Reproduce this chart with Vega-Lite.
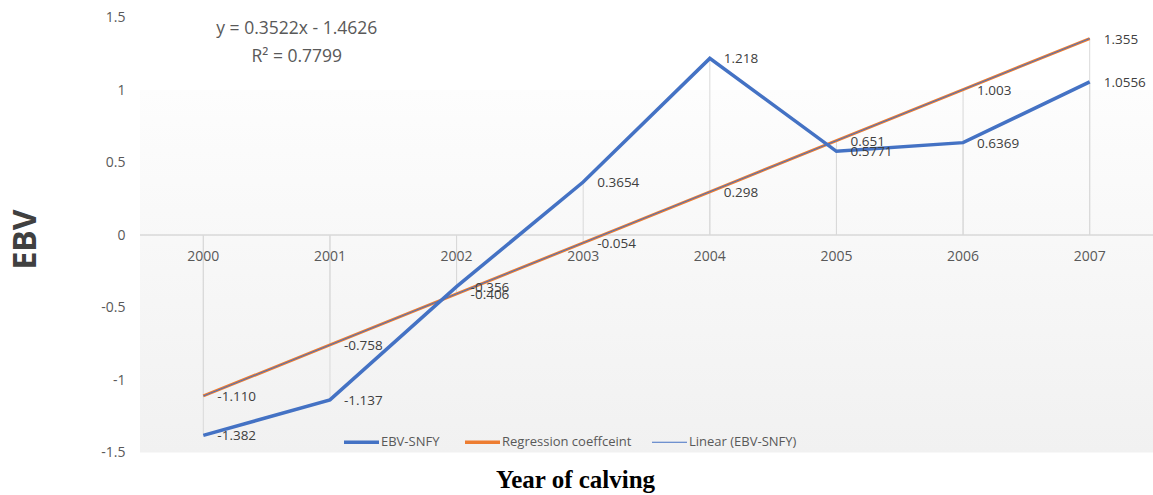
{
  "$schema": "https://vega.github.io/schema/vega-lite/v6.json",
  "width": 1013,
  "height": 435,
  "autosize": {"type": "none"},
  "padding": {"left": 140, "top": 17.5, "right": 0, "bottom": 42.5},
  "background": "white",
  "config": {"view": {"stroke": null}, "font": "Open Sans"},
  "title": {
    "text": ["y = 0.3522x - 1.4626", "R² = 0.7799"],
    "anchor": "middle",
    "frame": "group",
    "orient": "top",
    "baseline": "top",
    "dx": -349.7,
    "offset": -55,
    "fontSize": 17.5,
    "fontWeight": "normal",
    "color": "#595959",
    "lineHeight": 28,
    "font": "Open Sans"
  },
  "data": {
    "values": [
      {"year": "2000", "series": "EBV-SNFY", "value": -1.382, "label": "-1.382"},
      {"year": "2001", "series": "EBV-SNFY", "value": -1.137, "label": "-1.137"},
      {"year": "2002", "series": "EBV-SNFY", "value": -0.356, "label": "-0.356"},
      {"year": "2003", "series": "EBV-SNFY", "value": 0.3654, "label": "0.3654"},
      {"year": "2004", "series": "EBV-SNFY", "value": 1.218, "label": "1.218"},
      {"year": "2005", "series": "EBV-SNFY", "value": 0.5771, "label": "0.5771"},
      {"year": "2006", "series": "EBV-SNFY", "value": 0.6369, "label": "0.6369"},
      {"year": "2007", "series": "EBV-SNFY", "value": 1.0556, "label": "1.0556"},
      {"year": "2000", "series": "Regression coeffceint", "value": -1.110, "label": "-1.110"},
      {"year": "2001", "series": "Regression coeffceint", "value": -0.758, "label": "-0.758"},
      {"year": "2002", "series": "Regression coeffceint", "value": -0.406, "label": "-0.406"},
      {"year": "2003", "series": "Regression coeffceint", "value": -0.054, "label": "-0.054"},
      {"year": "2004", "series": "Regression coeffceint", "value": 0.298, "label": "0.298"},
      {"year": "2005", "series": "Regression coeffceint", "value": 0.651, "label": "0.651"},
      {"year": "2006", "series": "Regression coeffceint", "value": 1.003, "label": "1.003"},
      {"year": "2007", "series": "Regression coeffceint", "value": 1.355, "label": "1.355"},
      {"year": "2000", "series": "Linear (EBV-SNFY)", "value": -1.1104},
      {"year": "2001", "series": "Linear (EBV-SNFY)", "value": -0.7582},
      {"year": "2002", "series": "Linear (EBV-SNFY)", "value": -0.406},
      {"year": "2003", "series": "Linear (EBV-SNFY)", "value": -0.0538},
      {"year": "2004", "series": "Linear (EBV-SNFY)", "value": 0.2984},
      {"year": "2005", "series": "Linear (EBV-SNFY)", "value": 0.6506},
      {"year": "2006", "series": "Linear (EBV-SNFY)", "value": 1.0028},
      {"year": "2007", "series": "Linear (EBV-SNFY)", "value": 1.355}
    ]
  },
  "layer": [
    {
      "data": {"values": [{}]},
      "mark": {
        "type": "rect",
        "color": {
          "gradient": "linear",
          "x1": 0, "y1": 0, "x2": 0, "y2": 1,
          "stops": [
            {"offset": 0, "color": "#fdfdfd"},
            {"offset": 1, "color": "#f1f1f1"}
          ]
        }
      },
      "encoding": {
        "y": {
          "datum": 1, "type": "quantitative",
          "scale": {"domain": [-1.5, 1.5], "nice": false},
          "axis": {
            "values": [-1.5, -1, -0.5, 0, 0.5, 1, 1.5],
            "domain": false, "ticks": false, "grid": false, "labelPadding": 15,
            "labelFont": "Open Sans", "labelFontSize": 14, "labelColor": "#595959",
            "labelExpr": "'' + datum.value",
            "title": "EBV", "titleFont": "Open Sans", "titleFontSize": 32, "titleFontWeight": "bold",
            "titleColor": "#404040", "titleX": -115, "titleY": 221.5, "titleAngle": 270,
            "titleAlign": "center", "titleBaseline": "middle"
          }
        },
        "y2": {"datum": -1.5}
      }
    },
    {
      "data": {"values": [{}]},
      "mark": {"type": "rule", "color": "#d9d9d9", "strokeWidth": 1.5},
      "encoding": {
        "y": {"datum": 0, "type": "quantitative"}
      }
    },
    {
      "transform": [
        {"aggregate": [{"op": "min", "field": "value", "as": "lo"}, {"op": "max", "field": "value", "as": "hi"}], "groupby": ["year"]}
      ],
      "mark": {"type": "rule", "color": "#d9d9d9", "strokeWidth": 1},
      "encoding": {
        "x": {"field": "year", "type": "ordinal", "bandPosition": 0.5},
        "y": {"field": "lo", "type": "quantitative"},
        "y2": {"datum": 0}
      }
    },
    {
      "transform": [
        {"aggregate": [{"op": "min", "field": "value", "as": "lo"}, {"op": "max", "field": "value", "as": "hi"}], "groupby": ["year"]}
      ],
      "mark": {"type": "rule", "color": "#d9d9d9", "strokeWidth": 1},
      "encoding": {
        "x": {"field": "year", "type": "ordinal", "bandPosition": 0.5},
        "y": {"field": "hi", "type": "quantitative"},
        "y2": {"datum": 0}
      }
    },
    {
      "transform": [{"filter": "datum.series === 'Regression coeffceint'"}],
      "mark": {"type": "line", "strokeWidth": 3},
      "encoding": {
        "x": {
          "field": "year", "type": "ordinal", "bandPosition": 0.5,
          "scale": {"type": "band", "paddingInner": 0, "paddingOuter": 0},
          "axis": {
            "orient": "bottom", "offset": -217.5, "domain": false, "ticks": false, "grid": false,
            "zindex": 1,
            "labelPadding": 14, "labelBaseline": "top", "labelAlign": "center", "labelFont": "Open Sans", "labelFontSize": 14,
            "labelColor": "#595959", "labelAngle": 0,
            "title": "Year of calving", "titleFont": "Liberation Serif", "titleFontSize": 25,
            "titleFontWeight": "bold", "titleColor": "#000000", "titleX": 435, "titleY": 252,
            "titleAlign": "center", "titleBaseline": "alphabetic"
          }
        },
        "y": {"field": "value", "type": "quantitative"},
        "color": {
          "field": "series", "type": "nominal",
          "scale": {
            "domain": ["EBV-SNFY", "Regression coeffceint", "Linear (EBV-SNFY)"],
            "range": ["#4472C4", "#ED7D31", "#4472C4"]
          },
          "legend": {
            "title": null, "orient": "none", "direction": "horizontal",
            "legendX": 215, "legendY": 418, "padding": 0,
            "symbolType": "stroke", "symbolSize": 1225, "symbolStrokeWidth": 3.5,
            "labelFont": "Open Sans", "labelFontSize": 13, "labelColor": "#595959",
            "labelOffset": 13, "columnPadding": 18,
            "encode": {
              "symbols": {"update": {"strokeWidth": {"signal": "datum.value === 'Linear (EBV-SNFY)' ? 1 : 3.5"}}}
            }
          }
        }
      }
    },
    {
      "transform": [{"filter": "datum.series === 'Linear (EBV-SNFY)'"}],
      "mark": {"type": "line", "strokeWidth": 1},
      "encoding": {
        "x": {"field": "year", "type": "ordinal", "bandPosition": 0.5},
        "y": {"field": "value", "type": "quantitative"},
        "color": {"field": "series", "type": "nominal"}
      }
    },
    {
      "transform": [{"filter": "datum.series === 'EBV-SNFY'"}],
      "mark": {"type": "line", "strokeWidth": 3.5},
      "encoding": {
        "x": {"field": "year", "type": "ordinal", "bandPosition": 0.5},
        "y": {"field": "value", "type": "quantitative"},
        "color": {"field": "series", "type": "nominal"}
      }
    },
    {
      "transform": [{"filter": "isValid(datum.label)"}],
      "mark": {"type": "text", "align": "left", "baseline": "middle", "dx": 14, "dy": 1, "fontSize": 13.5, "font": "Open Sans", "color": "#404040"},
      "encoding": {
        "x": {"field": "year", "type": "ordinal", "bandPosition": 0.5},
        "y": {"field": "value", "type": "quantitative"},
        "text": {"field": "label"}
      }
    }
  ]
}
